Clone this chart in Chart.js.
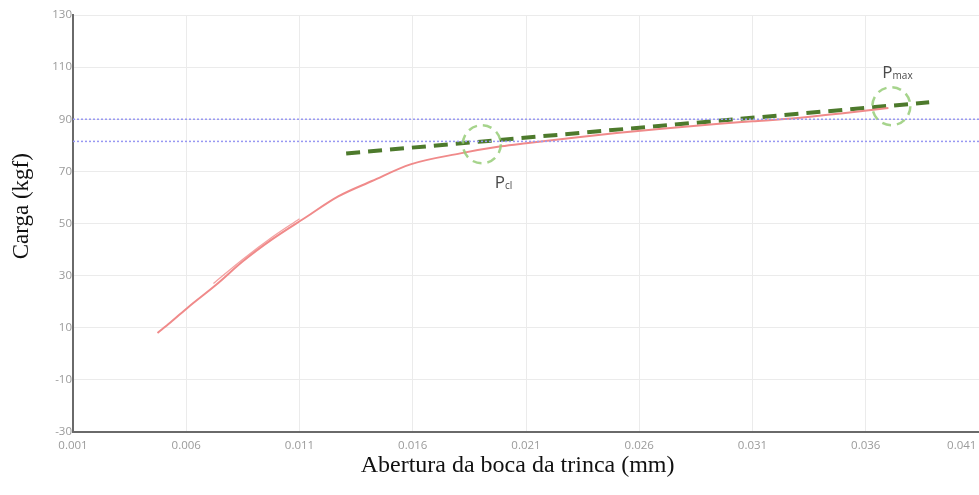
<!DOCTYPE html>
<html>
<head>
<meta charset="utf-8">
<script src="https://cdn.jsdelivr.net/npm/chart.js@4.4.1/dist/chart.umd.min.js"></script>
<style>
  html, body { margin: 0; padding: 0; background: #fff; overflow: hidden; }
  #wrap { width: 979px; height: 495px; position: relative; }
</style>
</head>
<body>
<div id="wrap"><canvas id="chart"></canvas></div>
<script>
// curva carga x abertura (leitura do gráfico)
const openingMm = [0.00473, 0.0053, 0.0061, 0.00732, 0.0085, 0.00977, 0.0113, 0.01271, 0.0142, 0.0159, 0.0181, 0.0199, 0.0210, 0.0230, 0.0250, 0.0270, 0.0294, 0.0310, 0.0330, 0.0350, 0.0370];
const loadKgf    = [8, 12, 18, 26.5, 35.5, 43.8, 52.5, 60.4, 66.3, 72.7, 76.9, 79.6, 80.8, 82.8, 84.7, 86.4, 88.2, 89.2, 90.5, 92.3, 94.3];

// trecho duplicado (descarga) visível perto de 0.007-0.011
const loopX = [0.0072, 0.0085, 0.0098, 0.0110];
const loopY = [27.0, 36.3, 44.8, 51.8];

// linha tracejada verde (tangente)
const trendX = [0.01306, 0.0388];
const trendY = [76.9, 96.5];

// linhas horizontais de referência
const refLevels = [90, 81.5];

// marcadores Pcl / Pmax
const markerNames = ['cl', 'max'];
const markerX = [0.01905, 0.03713];
const markerY = [80.4, 95];

const xTicks = [0.001, 0.041, 0.005];   // min, max, passo
const yTicks = [-30, 130, 20];

function pts(xs, ys) {
    return xs.map((x, i) => ({ x: x, y: ys[i] }));
}

// círculos tracejados + rótulos P
const markerPlugin = {
    id: 'markers',
    afterDatasetsDraw(chart) {
        const ctx = chart.ctx;
        const sx = chart.scales.x, sy = chart.scales.y;
        ctx.save();
        markerNames.forEach((name, i) => {
            const cx = sx.getPixelForValue(markerX[i]);
            const cy = sy.getPixelForValue(markerY[i]);
            ctx.beginPath();
            ctx.setLineDash([9, 6]);
            ctx.lineWidth = 2.5;
            ctx.strokeStyle = 'rgba(150, 205, 120, 0.85)';
            ctx.arc(cx, cy, 19, 0, Math.PI * 2);
            ctx.stroke();

            // rótulo
            ctx.setLineDash([]);
            ctx.fillStyle = '#4a4a4a';
            ctx.textBaseline = 'alphabetic';
            let lx, ly;
            if (name === 'cl') { lx = cx + 13; ly = cy + 44; }
            else { lx = cx - 9; ly = cy - 28; }
            ctx.font = '17px "Open Sans", sans-serif';
            ctx.fillText('P', lx, ly);
            const w = ctx.measureText('P').width;
            ctx.font = '10px "Open Sans", sans-serif';
            ctx.fillText(name, lx + w, ly + 1);
        });
        ctx.restore();
    }
};

new Chart(document.getElementById('chart'), {
    type: 'scatter',
    data: {
        datasets: [
            {
                label: 'ref90',
                data: pts([xTicks[0], xTicks[1]], [refLevels[0], refLevels[0]]),
                showLine: true,
                borderColor: '#9898f2',
                borderWidth: 1.5,
                borderDash: [2, 2],
                pointRadius: 0
            },
            {
                label: 'ref82',
                data: pts([xTicks[0], xTicks[1]], [refLevels[1], refLevels[1]]),
                showLine: true,
                borderColor: '#9898f2',
                borderWidth: 1.5,
                borderDash: [2, 2],
                pointRadius: 0
            },
            {
                label: 'Descarga',
                data: pts(loopX, loopY),
                showLine: true,
                borderColor: 'rgba(240, 138, 138, 0.8)',
                borderWidth: 1.3,
                pointRadius: 0,
                cubicInterpolationMode: 'monotone'
            },
            {
                label: 'Carga',
                data: pts(openingMm, loadKgf),
                showLine: true,
                borderColor: '#f08a8a',
                borderWidth: 2,
                pointRadius: 0,
                cubicInterpolationMode: 'monotone'
            },
            {
                label: 'Tangente',
                data: pts(trendX, trendY),
                showLine: true,
                borderColor: '#4d7a2c',
                borderWidth: 4,
                borderDash: [14, 8],
                pointRadius: 0
            }
        ]
    },
    options: {
        responsive: true,
        maintainAspectRatio: false,
        animation: false,
        layout: {
            padding: { top: 15, right: 0, bottom: 0, left: 0 }
        },
        plugins: {
            legend: { display: false },
            tooltip: { enabled: false }
        },
        scales: {
            x: {
                type: 'linear',
                min: xTicks[0],
                max: xTicks[1],
                ticks: {
                    stepSize: xTicks[2],
                    color: '#9a9a9a',
                    font: { family: 'Open Sans', size: 11.5 },
                    padding: 7,
                    maxRotation: 0,
                    callback: function(v) {
                        const s = v.toFixed(3);
                        // último rótulo encostado na borda direita
                        return Math.abs(v - xTicks[1]) < 1e-9 ? s + '\u2003\u2003\u2003' : s;
                    }
                },
                grid: { color: '#ebebeb', drawTicks: false },
                border: { color: '#6a6a6a', width: 2 },
                title: {
                    display: true,
                    text: 'Abertura da boca da trinca (mm)\u2002\u2009',
                    color: '#111',
                    font: { family: 'Liberation Serif', size: 24 },
                    padding: { top: 0, bottom: 15 }
                },
                afterFit(s) {
                    s.height = 63;
                    s.paddingRight = 0;
                }
            },
            y: {
                type: 'linear',
                min: yTicks[0],
                max: yTicks[1],
                ticks: {
                    stepSize: yTicks[2],
                    color: '#9a9a9a',
                    font: { family: 'Open Sans', size: 11.5 },
                    padding: 1
                },
                grid: { color: '#ebebeb', drawTicks: false },
                border: { color: '#6a6a6a', width: 2 },
                title: {
                    display: true,
                    text: '\u2002\u2002\u2002Carga (kgf)',
                    color: '#111',
                    font: { family: 'Liberation Serif', size: 23 },
                    padding: { top: 8, bottom: 0 }
                },
                afterFit(s) {
                    s.width = 73;
                }
            }
        }
    },
    plugins: [markerPlugin]
});
</script>
</body>
</html>
